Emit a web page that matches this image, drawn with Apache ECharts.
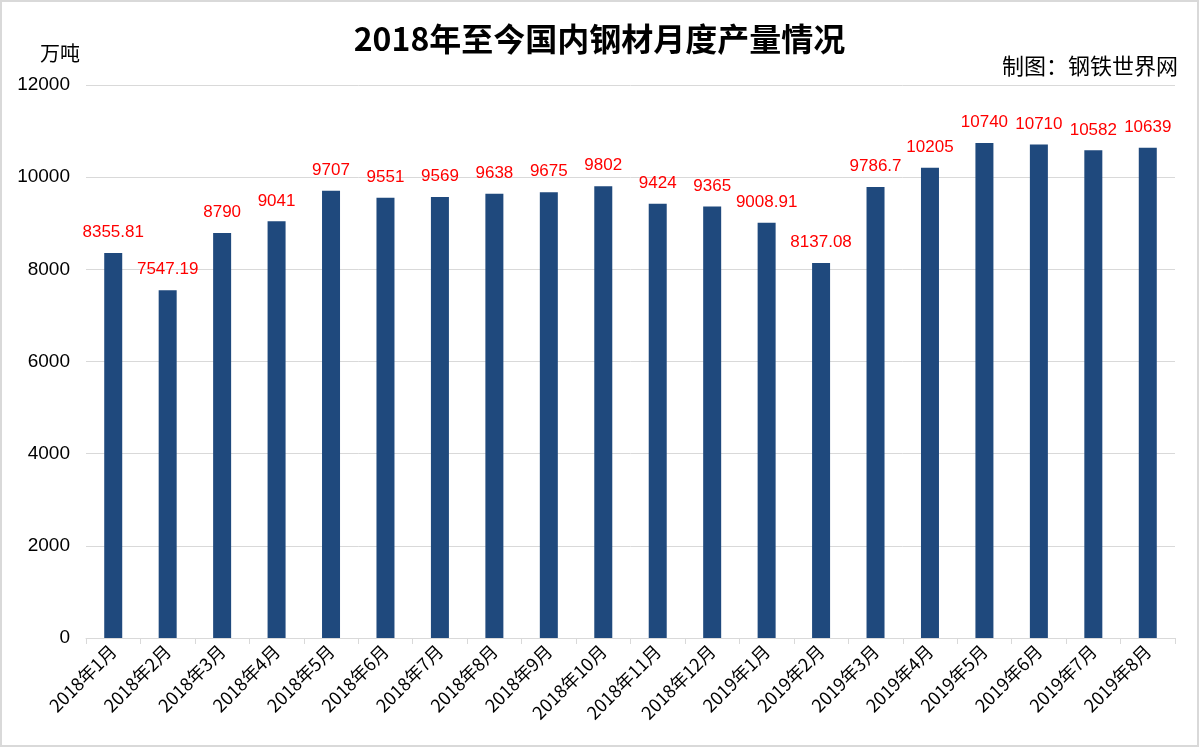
<!DOCTYPE html>
<html>
<head>
<meta charset="utf-8">
<script src="https://cdn.jsdelivr.net/npm/echarts@6/dist/echarts.min.js"></script>
<style>
  html, body { margin: 0; padding: 0; background: #fff; }
  #main { width: 1199px; height: 747px; box-sizing: border-box; border: 2px solid #d9d9d9; }
</style>
</head>
<body>
<div id="main"></div>
<script>
// 月份
var months = ['2018年1月', '2018年2月', '2018年3月', '2018年4月', '2018年5月', '2018年6月',
  '2018年7月', '2018年8月', '2018年9月', '2018年10月', '2018年11月', '2018年12月',
  '2019年1月', '2019年2月', '2019年3月', '2019年4月', '2019年5月', '2019年6月',
  '2019年7月', '2019年8月'];
// 产量 (万吨)
var output = [8355.81, 7547.19, 8790, 9041, 9707, 9551, 9569, 9638, 9675, 9802,
  9424, 9365, 9008.91, 8137.08, 9786.7, 10205, 10740, 10710, 10582, 10639];

var cjk = '"Noto Sans CJK SC", sans-serif';
var latin = '"Liberation Sans", Arial, sans-serif';
var chart = echarts.init(document.getElementById('main'));
var option = {
  animation: false,
  title: [
    {
      text: '2018年至今国内钢材月度产量情况',
      left: 'center',
      top: 16,
      textStyle: { fontFamily: cjk, fontSize: 32, fontWeight: 'bold', color: '#000' }
    },
    {
      text: '万吨',
      left: 33,
      top: 36,
      textStyle: { fontFamily: cjk, fontSize: 20, fontWeight: 'normal', color: '#000' }
    },
    {
      text: '制图：钢铁世界网',
      right: 14,
      top: 48,
      textStyle: { fontFamily: cjk, fontSize: 22, fontWeight: 'normal', color: '#000' }
    }
  ],
  grid: {
    left: 84,
    right: 22,
    top: 83,
    bottom: 107
  },
  xAxis: {
    type: 'category',
    data: months,
    axisLine: { lineStyle: { color: '#d9d9d9' } },
    axisTick: { show: true, length: 6, lineStyle: { color: '#d9d9d9' } },
    axisLabel: {
      rotate: 45,
      interval: 0,
      color: '#000',
      fontSize: 18,
      fontFamily: cjk,
      margin: 10
    }
  },
  yAxis: {
    type: 'value',
    min: 0,
    max: 12000,
    interval: 2000,
    axisLine: { show: false },
    axisTick: { show: false },
    splitLine: { lineStyle: { color: '#d9d9d9' } },
    axisLabel: {
      color: '#000',
      fontSize: 19,
      fontFamily: latin,
      margin: 16,
      formatter: function (v) { return String(v); }
    }
  },
  series: [
    {
      type: 'bar',
      data: output,
      barWidth: 18,
      itemStyle: { color: '#1f497d' },
      label: {
        show: true,
        position: 'top',
        distance: 12,
        color: '#ff0000',
        fontSize: 17,
        fontFamily: latin
      }
    }
  ]
};
chart.setOption(option);
</script>
</body>
</html>
